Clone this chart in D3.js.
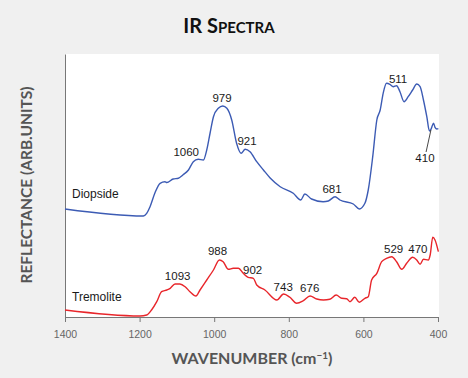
<!DOCTYPE html>
<html>
<head>
<meta charset="utf-8">
<script src="https://cdn.jsdelivr.net/npm/d3@7"></script>
<style>
  body { margin:0; background:#f0f0f0; }
  svg { display:block; }
</style>
</head>
<body>
<svg width="468" height="378"></svg>
<script>
// wavenumber (cm-1) and reflectance (arb. units)
var diopsideWn = [1400,1190,1181,1172,1159,1145,1132,1127,1110,1096,1084,1069,1056,1043,1029,1020,1011,1002,989,977,966,953,940,928,917,904,886,868,850,823,788,768,757,739,708,694,676,663,627,611,596,587,575,564,555,547,538,529,520,511,502,491,480,468,457,448,439,430,423,419,412,408,403,399];
var diopsideVal = [108,101,103.7,110.3,124,133.7,135.3,134.5,138,138.7,142,147,155.3,157.7,157,167,184,200.3,208.7,211,208.7,197,173.7,163.7,167.7,165.3,155.3,147,139,130.3,123.7,117,123,118,115.3,116,120.3,117,113,108,113.7,127,160.3,197,207,223.7,233.7,232.7,230.3,231.3,225.3,215.3,220.3,227,233,230.3,217,200.3,186,187.7,193.7,189.7,188,188.3];

var tremoliteWn = [1400,1199,1181,1168,1154,1141,1127,1118,1105,1092,1078,1065,1049,1038,1020,1002,986,976,962,949,935,922,909,895,886,864,832,814,797,779,761,743,725,707,690,673,658,645,636,623,611,596,587,578,564,551,538,524,511,497,484,468,457,448,439,426,421,414,408,399];
var tremoliteVal = [7,1,2,7,15.3,25.3,27,28.7,33,33,30.3,25.3,21,27,37,47,57,55.3,47.7,48.7,48.7,43.7,39.7,38.7,32,27,17,23,19.7,13.7,16.3,21,18,17,17.7,22,18.7,18.3,15.3,19.7,14.7,18.7,20.3,37,43.7,55.3,58.7,60.3,55.3,47.7,53.7,59.7,57,52.7,57.7,57,62,79.7,77,65.3];

// peak labels: text, wavenumber position, height position
var diopsideLabels = [["1060",1075,161],["979",979,215.3],["921",912,172],["681",684,123.7],["511",507,233.7]];
var tremoliteLabels = [["1093",1098,37],["988",991,62],["902",897,43],["743",815,26],["676",744,25.3],["529",519,64.3],["470",454,63.7]];
var label410 = ["410",435,155];
// leader for 410: from [wn, val] to [wn, val]
var leader410 = [[432,165],[419,187]];

var xTicks = [1400,1200,1000,800,600,400];

var svg = d3.select("svg");
var mLeft = 65, mRight = 438, mTop = 54, mBottom = 317;

var x = d3.scaleLinear().domain([1400,400]).range([mLeft,mRight]);
var y = d3.scaleLinear().domain([0,263]).range([mBottom,mTop]);

// white plot area
svg.append("rect")
  .attr("x",mLeft).attr("y",mTop)
  .attr("width",mRight-mLeft+1).attr("height",mBottom-mTop)
  .attr("fill","#fff");

// title
var title = svg.append("text")
  .attr("x",229).attr("y",33)
  .attr("text-anchor","middle")
  .style("font-family","Lato, 'Open Sans', sans-serif")
  .style("font-weight","bold")
  .attr("fill","#111");
title.append("tspan").style("font-size","20px").text("IR S");
title.append("tspan").style("font-size","15px").text("PECTRA");

// x axis
var xAxis = svg.append("g")
  .attr("transform","translate(0,"+mBottom+")")
  .call(d3.axisBottom(x).tickValues(xTicks).tickSize(5).tickSizeOuter(0).tickPadding(9).tickFormat(d3.format("d")));
xAxis.select(".domain").attr("stroke","#777");
xAxis.selectAll(".tick line").attr("stroke","#777");
xAxis.selectAll("text")
  .attr("fill","#666")
  .style("font-family","'Liberation Sans', Arial, sans-serif")
  .style("font-size","10.5px");

// y axis (no ticks)
var yAxis = svg.append("g")
  .attr("transform","translate("+mLeft+",0)")
  .call(d3.axisLeft(y).tickValues([]).tickSizeOuter(0));
yAxis.select(".domain").attr("stroke","#777");

// axis titles
var xt = svg.append("text")
  .attr("x",252).attr("y",364)
  .attr("text-anchor","middle")
  .attr("fill","#555")
  .style("font-family","Lato, 'Open Sans', sans-serif")
  .style("font-weight","bold")
  .style("font-size","16px");
xt.append("tspan").text("WAVENUMBER (cm");
xt.append("tspan").attr("dy",-5).style("font-size","10px").text("\u22121");
xt.append("tspan").attr("dy",5).text(")");

svg.append("text")
  .attr("transform","translate(32,185) rotate(-90)")
  .attr("text-anchor","middle")
  .attr("fill","#555")
  .style("font-family","Lato, 'Open Sans', sans-serif")
  .style("font-weight","bold")
  .style("font-size","15.5px")
  .text("REFLECTANCE (ARB.UNITS)");

// spectra
var line = d3.line()
  .x(function(d){ return x(d[0]); })
  .y(function(d){ return y(d[1]); })
  .curve(d3.curveMonotoneX);

var diopside = d3.zip(diopsideWn, diopsideVal);
var tremolite = d3.zip(tremoliteWn, tremoliteVal);

svg.append("path").datum(diopside)
  .attr("d",line).attr("fill","none")
  .attr("stroke","#3c5bb4").attr("stroke-width",1.4);
svg.append("path").datum(tremolite)
  .attr("d",line).attr("fill","none")
  .attr("stroke","#e8262b").attr("stroke-width",1.4);

// labels
function lbl(arr){
  svg.selectAll(null).data(arr).enter().append("text")
    .attr("x",function(d){ return x(d[1]); })
    .attr("y",function(d){ return y(d[2]); })
    .attr("text-anchor","middle")
    .attr("fill","#1a1a1a")
    .style("font-family","'Liberation Sans', Arial, sans-serif")
    .style("font-size","11.5px")
    .text(function(d){ return d[0]; });
}
lbl(diopsideLabels);
lbl(tremoliteLabels);
lbl([label410]);

// leader line to 410
svg.append("line")
  .attr("x1",x(leader410[0][0])).attr("y1",y(leader410[0][1]))
  .attr("x2",x(leader410[1][0])).attr("y2",y(leader410[1][1]))
  .attr("stroke","#333").attr("stroke-width",0.9);

svg.append("text")
  .attr("x",72).attr("y",198)
  .attr("fill","#1a1a1a")
  .style("font-family","'Liberation Sans', Arial, sans-serif")
  .style("font-size","12px")
  .text("Diopside");
svg.append("text")
  .attr("x",72).attr("y",301)
  .attr("fill","#1a1a1a")
  .style("font-family","'Liberation Sans', Arial, sans-serif")
  .style("font-size","12px")
  .text("Tremolite");
</script>
</body>
</html>
